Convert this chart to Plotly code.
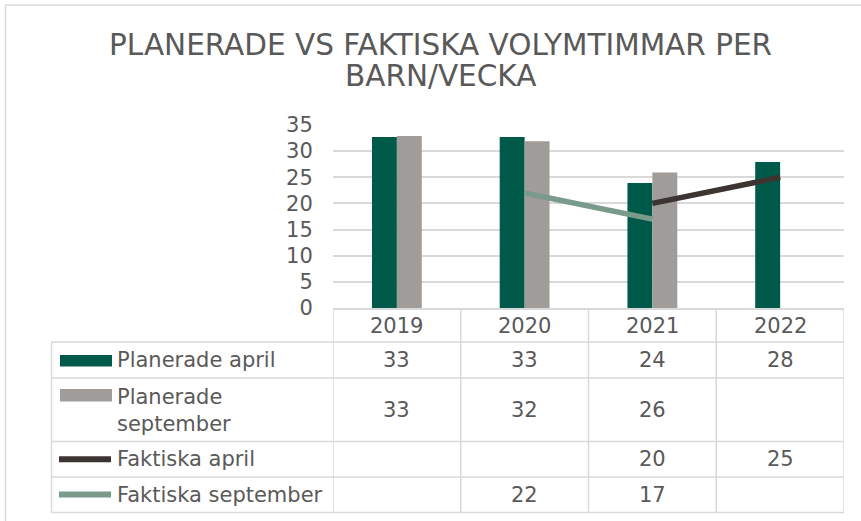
import plotly.graph_objects as go

# ---- data ----
years = ["2019", "2020", "2021", "2022"]
planerade_april = [32.7, 32.7, 23.9, 27.9]
planerade_september = [32.9, 31.9, 25.9, None]
faktiska_april = [None, None, 20, 25]
faktiska_september = [None, 22, 17, None]
series_names = ["Planerade april", "Planerade<br>september", "Faktiska april", "Faktiska september"]
y_ticks = [0, 5, 10, 15, 20, 25, 30, 35]
title_lines = ["PLANERADE VS FAKTISKA VOLYMTIMMAR PER", "BARN/VECKA"]

# ---- style ----
W, H = 861, 521
L, R, T, B = 333, 844, 125, 308
FONT = "DejaVu Sans"
TXT = "#595959"
GRID = "#D9D9D9"
C_GREEN = "#005A4A"
C_GRAY = "#A09C9A"
C_DARK = "#3B3431"
C_LIGHT = "#7A9A8B"


def px(x):
    return (x - L) / (R - L)


def py(y):
    return (B - y) / (B - T)


fig = go.Figure()
fig.add_trace(go.Bar(x=years, y=planerade_april, name="Planerade april",
                     marker=dict(color=C_GREEN, line=dict(width=0))))
fig.add_trace(go.Bar(x=years, y=planerade_september, name="Planerade september",
                     marker=dict(color=C_GRAY, line=dict(width=0))))
fig.add_trace(go.Scatter(x=years, y=faktiska_april, mode="lines", name="Faktiska april",
                         line=dict(color=C_DARK, width=5.5)))
fig.add_trace(go.Scatter(x=years, y=faktiska_september, mode="lines", name="Faktiska september",
                         line=dict(color=C_LIGHT, width=5.5)))

shapes = []
annotations = []

# outer chart border
shapes.append(dict(type="line", xref="paper", yref="paper", x0=px(5.5), x1=px(870),
                   y0=py(5), y1=py(5), line=dict(color=GRID, width=1.5)))
shapes.append(dict(type="line", xref="paper", yref="paper", x0=px(5.5), x1=px(5.5),
                   y0=py(5), y1=py(530), line=dict(color=GRID, width=1.5)))

# data table grid
row_edges = [308, 342, 378, 441.5, 477, 512.5]
row_centers = [326, 360, 410, 459, 494.5]
for ry in row_edges[1:]:
    shapes.append(dict(type="line", xref="paper", yref="paper", x0=px(51.5), x1=1,
                       y0=py(ry), y1=py(ry), line=dict(color=GRID, width=1.5)))
shapes.append(dict(type="line", xref="paper", yref="paper", x0=px(51.5), x1=px(51.5),
                   y0=py(342), y1=py(512.5), line=dict(color=GRID, width=1.5)))
for k in range(len(years) + 1):
    shapes.append(dict(type="line", xref="x", yref="paper", x0=k - 0.5, x1=k - 0.5,
                       y0=py(308), y1=py(512.5), line=dict(color=GRID, width=1.5)))

# category header row (years) placed on the category axis positions
for i, yr in enumerate(years):
    annotations.append(dict(x=i, xref="x", y=py(row_centers[0]), yref="paper",
                            text=yr, showarrow=False,
                            font=dict(family=FONT, size=21, color=TXT),
                            xanchor="center", yanchor="middle"))

# table values
table_rows = [planerade_april, planerade_september, faktiska_april, faktiska_september]
for r, vals in enumerate(table_rows):
    for i, v in enumerate(vals):
        if v is None:
            continue
        annotations.append(dict(x=i, xref="x", y=py(row_centers[r + 1]), yref="paper",
                                text=str(int(round(v))), showarrow=False,
                                font=dict(family=FONT, size=21, color=TXT),
                                xanchor="center", yanchor="middle"))

# legend keys + labels in table
label_y = [360, 410, 459, 494.5]
for r, name in enumerate(series_names):
    annotations.append(dict(x=px(115), xref="paper", y=py(label_y[r]), yref="paper",
                            text=name, showarrow=False, align="left",
                            font=dict(family=FONT, size=21, color=TXT),
                            xanchor="left", yanchor="middle"))
shapes.append(dict(type="rect", xref="paper", yref="paper", x0=px(60), x1=px(112),
                   y0=py(355), y1=py(366.5), fillcolor=C_GREEN, line=dict(width=0)))
shapes.append(dict(type="rect", xref="paper", yref="paper", x0=px(60), x1=px(112),
                   y0=py(389), y1=py(401.5), fillcolor=C_GRAY, line=dict(width=0)))
shapes.append(dict(type="line", xref="paper", yref="paper", x0=px(59), x1=px(111),
                   y0=py(459.3), y1=py(459.3), line=dict(color=C_DARK, width=6)))
shapes.append(dict(type="line", xref="paper", yref="paper", x0=px(59), x1=px(111),
                   y0=py(494.5), y1=py(494.5), line=dict(color=C_LIGHT, width=6)))

# title
for txt, cy in zip(title_lines, [45, 76]):
    annotations.append(dict(x=px(440), xref="paper", y=py(cy), yref="paper", text=txt,
                            showarrow=False, xanchor="center", yanchor="middle",
                            font=dict(family=FONT, size=29.5, color=TXT)))

fig.update_layout(
    width=W, height=H,
    margin=dict(l=L, r=W - R, t=T, b=H - B, pad=0),
    paper_bgcolor="white", plot_bgcolor="white",
    barmode="group", bargap=0.61, bargroupgap=0,
    showlegend=False,
    shapes=shapes, annotations=annotations,
    font=dict(family=FONT, color=TXT),
)
fig.update_xaxes(type="category", range=[-0.5, 3.5], showgrid=False, zeroline=False,
                 showline=True, linecolor=GRID, linewidth=1.5, showticklabels=False)
fig.update_yaxes(range=[0, 35], tickvals=y_ticks, showgrid=True, gridcolor=GRID, gridwidth=1.5,
                 zeroline=False, showline=False,
                 ticks="outside", ticklen=15, tickcolor="rgba(0,0,0,0)",
                 tickfont=dict(family=FONT, size=21, color=TXT))

fig.write_html("out.html", config={"displayModeBar": False},
               post_script="document.body.style.margin='0px';")
